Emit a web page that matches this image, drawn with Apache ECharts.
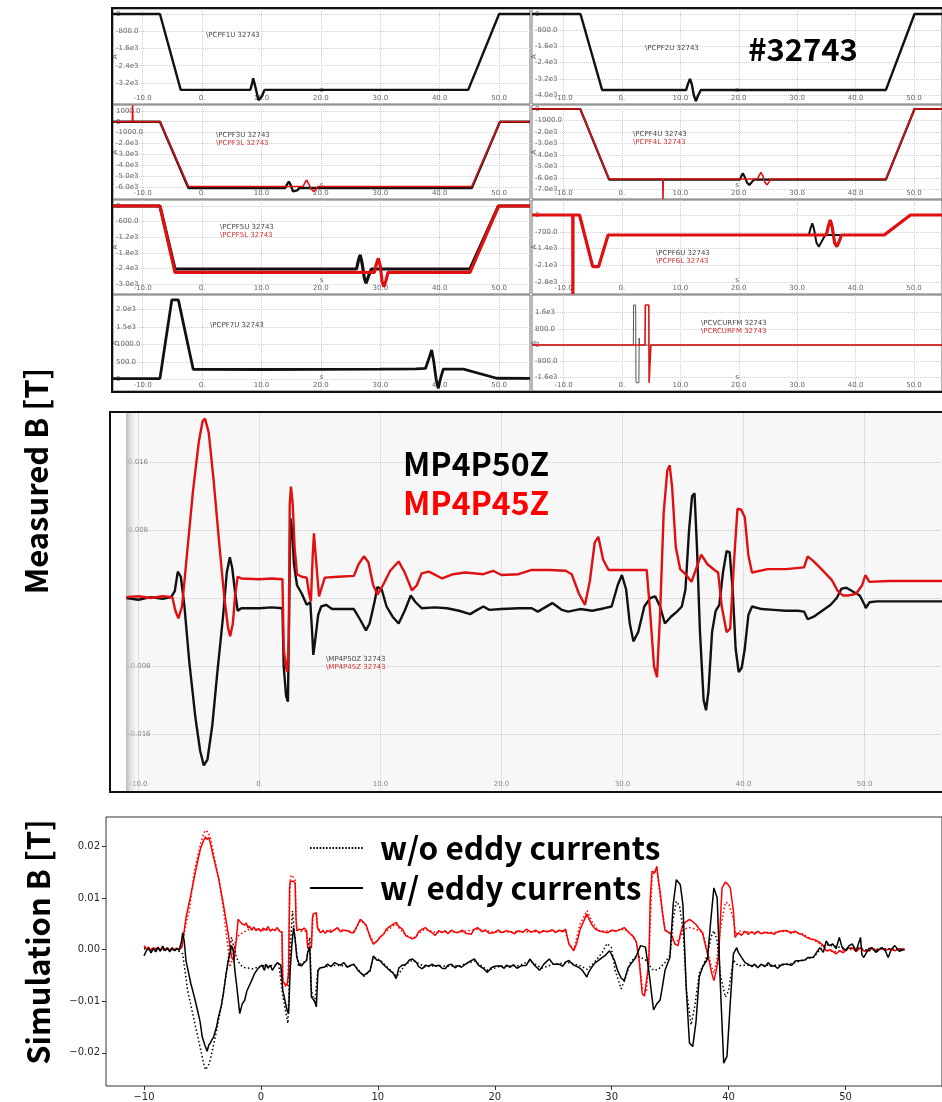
<!DOCTYPE html>
<html>
<head>
<meta charset="utf-8">
<script src="https://cdn.jsdelivr.net/npm/echarts@6/dist/echarts.min.js"></script>
<style>
html,body{margin:0;padding:0;background:#fff;}
#c{width:942px;height:1102px;}
</style>
</head>
<body>
<div id="c"></div>
<script>
// ---------- shot ----------
const shot = '32743';

// ---------- coil current panels: tick values and labels ----------
const coilTimeTicks = [-10, 0, 10, 20, 30, 40, 50];
const coilTimeLabels = ['-10.0', '0.', '10.0', '20.0', '30.0', '40.0', '50.0'];
const pf1Ticks = [0, -800, -1600, -2400, -3200];
const pf1Labels = ['0', '-800.0', '-1.6e3', '-2.4e3', '-3.2e3'];
const pf2Ticks = [0, -800, -1600, -2400, -3200, -4000];
const pf2Labels = ['0', '-800.0', '-1.6e3', '-2.4e3', '-3.2e3', '-4.0e3'];
const pf3Ticks = [1000, 0, -1000, -2000, -3000, -4000, -5000, -6000];
const pf3Labels = ['1000.0', '0', '-1000.0', '-2.0e3', '-3.0e3', '-4.0e3', '-5.0e3', '-6.0e3'];
const pf4Ticks = [0, -1000, -2000, -3000, -4000, -5000, -6000, -7000];
const pf4Labels = ['0', '-1000.0', '-2.0e3', '-3.0e3', '-4.0e3', '-5.0e3', '-6.0e3', '-7.0e3'];
const pf5Ticks = [0, -600, -1200, -1800, -2400, -3000];
const pf5Labels = ['0', '-600.0', '-1.2e3', '-1.8e3', '-2.4e3', '-3.0e3'];
const pf6Ticks = [0, -700, -1400, -2100, -2800];
const pf6Labels = ['0', '-700.0', '-1.4e3', '-2.1e3', '-2.8e3'];
const pf7Ticks = [0, 500, 1000, 1500, 2000];
const pf7Labels = ['0', '500.0', '1000.0', '1.5e3', '2.0e3'];
const fmTicks = [1600, 800, 0, -800, -1600];
const fmLabels = ['1.6e3', '800.0', '0', '-800.0', '-1.6e3'];

// ---------- coil currents [t (s), I (A)] ----------
const pcpf1u = [[-15,0],[-7.1,0],[-3.6,-3520],[8.1,-3520],[8.35,-3300],[8.6,-2980],[8.85,-3250],[9.2,-3650],[9.5,-4000],[9.75,-4070],[10.1,-3800],[10.5,-3520],[44.8,-3520],[50.0,0],[55.2,0]];
const pcpf2u = [[-15.4,0],[-7.1,0],[-3.4,-3750],[11.0,-3750],[11.3,-3450],[11.65,-3210],[11.95,-3450],[12.3,-4000],[12.66,-4300],[13.0,-4050],[13.5,-3750],[45.2,-3750],[50.1,0],[54.8,0]];
const pcpf3u = [[-15,0],[-7.1,0],[-2.3,-6080],[14.0,-6080],[14.3,-5750],[14.6,-5500],[14.9,-5800],[15.3,-6400],[15.6,-6570],[16.0,-6300],[16.4,-6080],[45.4,-6080],[50.15,0],[55.2,0]];
const pcpf3l = [[-15,0],[-11.75,0],[-11.7,1500],[-11.65,0],[-7.1,0],[-2.3,-5950],[17.0,-5950],[17.3,-5600],[17.6,-5350],[17.9,-5650],[18.4,-6200],[18.8,-6420],[19.15,-6200],[19.5,-5950],[45.4,-5950],[50.15,0],[55.2,0]];
const pcpf4u = [[-15.4,0],[-7.14,0],[-2.2,-6150],[20.2,-6150],[20.45,-5850],[20.7,-5600],[21.0,-5900],[21.4,-6400],[21.8,-6620],[22.2,-6400],[22.6,-6150],[45.2,-6150],[50.1,0],[54.8,0]];
const pcpf4l = [[-15.4,0],[-7.14,0],[-2.2,-6100],[7.0,-6100],[7.03,-7850],[7.08,-6100],[23.2,-6100],[23.5,-5800],[23.8,-5530],[24.1,-5800],[24.5,-6400],[24.85,-6620],[25.2,-6350],[25.5,-6100],[45.2,-6100],[50.1,0],[54.8,0]];
const pcpf5u = [[-15,0],[-7.1,0],[-4.56,-2414],[26.0,-2414],[26.3,-2100],[26.6,-1877],[26.9,-2150],[27.3,-2750],[27.6,-2962],[28.0,-2700],[28.5,-2414],[45.1,-2414],[49.9,0],[55.2,0]];
const pcpf5l = [[-15,0],[-7.1,0],[-4.56,-2540],[29.0,-2540],[29.3,-2250],[29.67,-2004],[30.0,-2300],[30.3,-2900],[30.6,-3092],[30.95,-2850],[31.3,-2540],[45.1,-2540],[49.9,0],[55.2,0]];
const pcpf6u = [[-15.4,0],[-7.26,0],[-5.0,-2150],[-4.0,-2150],[-2.37,-833],[32.0,-833],[32.3,-550],[32.6,-347],[32.9,-600],[33.3,-1150],[33.7,-1321],[34.2,-1100],[34.8,-833],[45.0,-833],[49.4,0],[54.8,0]];
const pcpf6l = [[-15.4,0],[-8.42,0],[-8.4,-3290],[-8.38,0],[-7.26,0],[-5.0,-2150],[-4.0,-2150],[-2.37,-833],[35.0,-833],[35.3,-500],[35.67,-208],[36.0,-500],[36.4,-1150],[36.8,-1321],[37.2,-1100],[37.6,-833],[44.9,-833],[49.4,0],[54.8,0]];
const pcpf7u = [[-15,20],[-7.1,20],[-5.1,2270],[-4.0,2270],[-1.5,286],[10,280],[20,285],[30,290],[36,300],[37.6,310],[38.2,600],[38.65,840],[39.0,500],[39.4,0],[39.77,-257],[40.1,0],[40.6,290],[44.0,290],[49.6,30],[55.2,25]];
const pcvcurfm = [[-15.4,0],[1.95,0],[2.0,1970],[2.35,1970],[2.4,-1855],[2.9,-1855],[2.95,344],[3.0,0],[54.8,0]];
const pcrcurfm = [[-15.4,0],[3.95,0],[4.0,1970],[4.6,1970],[4.65,-1855],[4.9,-1855],[4.95,0],[54.8,0]];

// ---------- measured magnetic probes [t (s), B (T)] ----------
const measBTicks = [0.016, 0.008, 0, -0.008, -0.016];
const measBLabels = ['0.016', '0.008', '0', '-0.008', '-0.016'];
const mp4p50z = [[-11,0.0000],[-10,-0.0002],[-9,0.0001],[-8,-0.0001],[-7.3,0.0001],[-7.0,0.0008],[-6.75,0.0031],[-6.5,0.0025],[-6.2,-0.0010],[-5.8,-0.0075],[-5.3,-0.0140],[-4.9,-0.0180],[-4.6,-0.0197],[-4.3,-0.0190],[-3.9,-0.0150],[-3.5,-0.0090],[-3.0,-0.0020],[-2.7,0.0030],[-2.45,0.0048],[-2.25,0.0035],[-2.0,0.0005],[-1.8,-0.0015],[-1.5,-0.0012],[0,-0.0012],[1,-0.0011],[1.9,-0.0012],[2.0,-0.0080],[2.2,-0.0115],[2.35,-0.0122],[2.45,-0.0020],[2.55,0.0094],[2.7,0.0080],[2.85,0.0040],[3.1,0.0015],[3.5,0.0005],[3.9,-0.0008],[4.2,-0.0005],[4.35,-0.0040],[4.45,-0.0067],[4.6,-0.0050],[4.85,-0.0020],[5.1,-0.0010],[5.5,-0.0008],[6,-0.0013],[7,-0.0013],[7.8,-0.0013],[8.3,-0.0025],[8.8,-0.0038],[9.1,-0.0030],[9.5,-0.0005],[9.75,0.0013],[10.1,0.0010],[10.5,-0.0010],[11.0,-0.0022],[11.5,-0.0030],[12.0,-0.0015],[12.5,0.0003],[12.9,-0.0005],[13.4,-0.0012],[14.5,-0.0011],[15.5,-0.0012],[16.5,-0.0015],[17.4,-0.0019],[18.0,-0.0014],[18.5,-0.0010],[19.0,-0.0014],[20.0,-0.0013],[21.4,-0.0012],[22.5,-0.0012],[23.0,-0.0016],[24.2,-0.0006],[25.0,-0.0014],[25.5,-0.0016],[26.5,-0.0013],[27.5,-0.0015],[28.5,-0.0012],[29.1,-0.0010],[29.6,0.0015],[29.95,0.0027],[30.3,0.0010],[30.6,-0.0030],[30.9,-0.0051],[31.3,-0.0040],[31.8,-0.0010],[32.3,0.0000],[32.7,0.0002],[33.1,-0.0010],[33.5,-0.0030],[34.0,-0.0022],[34.5,-0.0016],[34.9,-0.0010],[35.2,0.0010],[35.5,0.0080],[35.75,0.0120],[35.95,0.0123],[36.15,0.0060],[36.4,-0.0040],[36.7,-0.0120],[36.9,-0.0132],[37.1,-0.0110],[37.4,-0.0040],[37.7,-0.0015],[38.0,-0.0008],[38.3,0.0030],[38.6,0.0055],[38.85,0.0054],[39.1,0.0010],[39.35,-0.0060],[39.6,-0.0087],[39.85,-0.0082],[40.1,-0.0060],[40.4,-0.0020],[40.7,-0.0010],[41.5,-0.0013],[42.5,-0.0014],[43.5,-0.0015],[44.5,-0.0015],[45.0,-0.0016],[45.3,-0.0025],[45.8,-0.0022],[46.5,-0.0015],[47.2,-0.0008],[47.7,0.0000],[48.1,0.0011],[48.5,0.0012],[49.0,0.0008],[49.6,0.0003],[50.0,-0.0008],[50.1,-0.0012],[50.4,-0.0005],[51,-0.0004],[53,-0.0004],[56.5,-0.0004]];
const mp4p45z = [[-11,0.0001],[-10,0.0002],[-9,0.0000],[-8,0.0002],[-7.2,0.0001],[-6.95,-0.0015],[-6.7,-0.0024],[-6.4,-0.0010],[-6.0,0.0050],[-5.5,0.0125],[-5.0,0.0185],[-4.7,0.0208],[-4.5,0.0211],[-4.2,0.0195],[-3.8,0.0140],[-3.3,0.0060],[-2.9,0.0000],[-2.6,-0.0035],[-2.42,-0.0045],[-2.2,-0.0030],[-2.0,0.0005],[-1.8,0.0025],[-1.5,0.0023],[0,0.0022],[1.0,0.0023],[1.9,0.0022],[2.0,-0.0060],[2.2,-0.0082],[2.3,-0.0087],[2.42,-0.0050],[2.5,0.0110],[2.6,0.0131],[2.75,0.0110],[2.9,0.0060],[3.1,0.0028],[3.5,0.0025],[3.9,0.0024],[4.1,0.0005],[4.25,-0.0004],[4.4,0.0050],[4.5,0.0076],[4.7,0.0040],[4.92,0.0002],[5.2,0.0015],[5.4,0.0024],[6.5,0.0025],[7.8,0.0026],[8.2,0.0040],[8.63,0.0049],[9.0,0.0042],[9.4,0.0015],[9.75,0.0004],[10.2,0.0015],[10.8,0.0032],[11.5,0.0043],[12.0,0.0030],[12.6,0.0009],[13.0,0.0015],[13.4,0.0029],[14.0,0.0031],[15.1,0.0023],[16.0,0.0028],[17.0,0.0030],[18.5,0.0028],[19.3,0.0032],[20.0,0.0027],[21.4,0.0028],[22.5,0.0033],[24.0,0.0033],[25.3,0.0032],[25.8,0.0028],[26.4,0.0005],[26.9,-0.0008],[27.3,0.0020],[27.7,0.0065],[28.0,0.0072],[28.4,0.0045],[28.85,0.0033],[30.0,0.0033],[31.0,0.0033],[32.0,0.0033],[32.3,-0.0020],[32.6,-0.0080],[32.85,-0.0093],[33.1,-0.0020],[33.4,0.0100],[33.7,0.0150],[33.9,0.0156],[34.1,0.0130],[34.4,0.0060],[34.76,0.0034],[35.2,0.0028],[35.7,0.0019],[36.1,0.0035],[36.5,0.0051],[37.0,0.0040],[37.6,0.0033],[37.9,0.0030],[38.2,-0.0010],[38.6,-0.0040],[38.9,-0.0036],[39.2,0.0040],[39.5,0.0105],[39.8,0.0104],[40.1,0.0095],[40.4,0.0050],[40.7,0.0030],[42.0,0.0034],[43.5,0.0034],[45.0,0.0036],[45.3,0.0049],[45.8,0.0043],[46.5,0.0033],[47.3,0.0021],[47.8,0.0008],[48.2,0.0003],[48.7,0.0003],[49.3,0.0005],[49.8,0.0015],[50.07,0.0027],[50.4,0.0019],[52,0.0020],[54,0.0020],[56.5,0.0020]];

// ---------- simulated probe signals [t (s), B (T)] ----------
const simTimeTicks = [-10, 0, 10, 20, 30, 40, 50];
const simTimeLabels = ['\u221210', '0', '10', '20', '30', '40', '50'];
const simBTicks = [-0.02, -0.01, 0, 0.01, 0.02];
const simBLabels = ['\u22120.02', '\u22120.01', '0.00', '0.01', '0.02'];
const sim45Eddy = [[-10.0,0.0008],[-9.8,0.0002],[-9.6,0.0005],[-9.4,-0.0002],[-9.2,0.0004],[-9.0,0.0001],[-8.8,0.0005],[-8.6,-0.0001],[-8.4,0.0003],[-8.2,0.0000],[-8.0,0.0004],[-7.8,-0.0001],[-7.6,0.0002],[-7.4,0.0000],[-7.2,0.0003],[-7.0,0.0000],[-6.75,0.0005],[-6.6,0.0030],[-6.41,0.0062],[-6.1,0.0095],[-5.71,0.0139],[-5.43,0.0170],[-5.16,0.0197],[-4.9,0.0212],[-4.74,0.0219],[-4.6,0.0214],[-4.46,0.0218],[-4.3,0.0205],[-4.04,0.0178],[-3.62,0.0139],[-3.21,0.0088],[-2.93,0.0050],[-2.79,0.0030],[-2.51,-0.0015],[-2.31,-0.0021],[-2.15,0.0010],[-1.95,0.0059],[-1.8,0.0055],[-1.6,0.0050],[-1.4,0.0048],[-1.25,0.0052],[-1.1,0.0042],[-0.98,0.0046],[-0.8,0.0038],[-0.6,0.0044],[-0.42,0.0037],[-0.2,0.0041],[0.0,0.0036],[0.2,0.0042],[0.42,0.0038],[0.6,0.0045],[0.8,0.0036],[1.0,0.0040],[1.2,0.0037],[1.4,0.0043],[1.6,0.0036],[1.8,0.0033],[1.87,-0.0060],[2.0,-0.0066],[2.23,-0.0069],[2.37,-0.0045],[2.45,0.0120],[2.51,0.0133],[2.65,0.0131],[2.79,0.0133],[2.93,0.0129],[3.0,0.0060],[3.07,0.0037],[3.3,0.0040],[3.48,0.0038],[3.7,0.0042],[3.9,0.0037],[4.0,0.0004],[4.32,0.0004],[4.4,0.0060],[4.46,0.0069],[4.74,0.0072],[4.82,0.0045],[4.88,0.0040],[5.1,0.0033],[5.3,0.0037],[5.5,0.0032],[5.71,0.0037],[6.0,0.0034],[6.3,0.0039],[6.55,0.0043],[6.8,0.0035],[7.1,0.0038],[7.39,0.0037],[7.7,0.0033],[7.94,0.0033],[8.2,0.0045],[8.5,0.0059],[8.78,0.0053],[9.0,0.0048],[9.34,0.0024],[9.62,0.0011],[9.9,0.0016],[10.17,0.0024],[10.5,0.0030],[10.73,0.0040],[11.0,0.0045],[11.3,0.0049],[11.57,0.0053],[11.8,0.0045],[12.1,0.0040],[12.4,0.0027],[12.7,0.0024],[12.96,0.0021],[13.24,0.0024],[13.5,0.0035],[13.8,0.0040],[14.07,0.0043],[14.4,0.0036],[14.63,0.0033],[14.91,0.0028],[15.2,0.0037],[15.5,0.0033],[15.75,0.0037],[16.0,0.0031],[16.3,0.0038],[16.6,0.0034],[16.86,0.0033],[17.2,0.0038],[17.5,0.0032],[17.98,0.0030],[18.26,0.0040],[18.53,0.0043],[18.9,0.0035],[19.2,0.0038],[19.5,0.0032],[19.93,0.0033],[20.3,0.0038],[20.6,0.0033],[21.0,0.0037],[21.32,0.0035],[21.7,0.0031],[22.0,0.0037],[22.4,0.0034],[22.71,0.0040],[23.1,0.0034],[23.5,0.0038],[23.83,0.0032],[24.11,0.0037],[24.5,0.0035],[24.9,0.0039],[25.2,0.0033],[25.5,0.0038],[25.8,0.0035],[26.06,0.0040],[26.34,0.0011],[26.76,-0.0002],[27.0,0.0012],[27.31,0.0040],[27.6,0.0055],[27.87,0.0069],[28.1,0.0058],[28.29,0.0049],[28.6,0.0040],[28.85,0.0037],[29.2,0.0035],[29.68,0.0033],[30.0,0.0038],[30.4,0.0036],[30.8,0.0040],[31.08,0.0043],[31.49,0.0033],[31.91,0.0024],[32.1,0.0015],[32.33,-0.0015],[32.61,-0.0085],[32.8,-0.0090],[32.97,-0.0092],[33.17,-0.0028],[33.3,0.0100],[33.45,0.0152],[33.7,0.0150],[33.86,0.0162],[34.0,0.0135],[34.14,0.0113],[34.35,0.0070],[34.56,0.0037],[34.98,0.0033],[35.2,0.0025],[35.4,0.0011],[35.67,0.0008],[35.87,0.0030],[36.09,0.0049],[36.4,0.0055],[36.65,0.0059],[36.9,0.0055],[37.21,0.0049],[37.5,0.0040],[37.77,0.0033],[38.0,0.0010],[38.33,-0.0021],[38.55,-0.0045],[38.74,-0.0060],[38.95,-0.0040],[39.16,-0.0008],[39.3,0.0060],[39.44,0.0120],[39.72,0.0131],[39.9,0.0128],[40.14,0.0120],[40.41,0.0075],[40.55,0.0024],[40.83,0.0033],[41.1,0.0028],[41.4,0.0036],[41.67,0.0030],[42.0,0.0035],[42.22,0.0030],[42.5,0.0036],[42.78,0.0031],[43.1,0.0034],[43.4,0.0032],[43.62,0.0033],[43.9,0.0030],[44.2,0.0035],[44.6,0.0037],[45.01,0.0037],[45.3,0.0032],[45.7,0.0036],[46.0,0.0031],[46.27,0.0030],[46.6,0.0025],[46.96,0.0021],[47.3,0.0020],[47.8,0.0014],[48.1,0.0008],[48.35,-0.0002],[48.7,0.0000],[49.19,-0.0008],[49.5,-0.0002],[49.8,-0.0006],[50.1,0.0002],[50.59,0.0004],[50.9,-0.0004],[51.28,0.0004],[51.6,-0.0003],[51.98,-0.0002],[52.3,0.0003],[52.7,-0.0002],[53.09,0.0004],[53.4,-0.0001],[53.8,0.0002],[54.21,-0.0002],[54.6,0.0002],[55.04,0.0001]];
const sim45NoEddy = [[-10.0,0.0006],[-9.5,0.0001],[-9.0,0.0002],[-8.5,0.0000],[-8.0,0.0002],[-7.5,0.0000],[-7.0,0.0001],[-6.75,0.0008],[-6.41,0.0050],[-6.13,0.0075],[-5.71,0.0150],[-5.43,0.0180],[-5.16,0.0205],[-4.9,0.0225],[-4.74,0.0232],[-4.5,0.0228],[-4.3,0.0215],[-4.04,0.0185],[-3.62,0.0140],[-3.21,0.0080],[-2.93,0.0025],[-2.79,0.0000],[-2.65,-0.0034],[-2.45,-0.0020],[-2.23,0.0012],[-2.0,0.0025],[-1.81,0.0030],[-1.5,0.0033],[-1.2,0.0038],[-0.9,0.0040],[-0.6,0.0038],[-0.3,0.0040],[0.0,0.0037],[0.5,0.0039],[1.0,0.0038],[1.5,0.0039],[1.8,0.0035],[1.87,-0.0060],[2.1,-0.0072],[2.3,-0.0070],[2.4,0.0030],[2.5,0.0135],[2.59,0.0145],[2.8,0.0140],[2.93,0.0135],[3.0,0.0065],[3.07,0.0038],[3.5,0.0036],[3.9,0.0036],[4.0,0.0010],[4.32,0.0010],[4.46,0.0065],[4.74,0.0068],[4.88,0.0040],[5.5,0.0036],[6.5,0.0040],[7.5,0.0036],[8.0,0.0036],[8.5,0.0056],[8.9,0.0050],[9.4,0.0024],[9.7,0.0012],[10.5,0.0032],[11.5,0.0050],[12.4,0.0028],[13.0,0.0022],[14.0,0.0040],[15.0,0.0033],[16.0,0.0035],[17.0,0.0034],[18.5,0.0040],[20.0,0.0034],[22.0,0.0035],[24.0,0.0035],[26.0,0.0037],[26.34,0.0012],[26.76,0.0000],[27.3,0.0050],[27.9,0.0076],[28.3,0.0055],[28.85,0.0037],[30.0,0.0036],[31.08,0.0040],[31.7,0.0030],[32.1,0.0015],[32.4,-0.0030],[32.61,-0.0075],[32.97,-0.0082],[33.2,-0.0010],[33.45,0.0140],[33.72,0.0155],[33.9,0.0150],[34.14,0.0105],[34.56,0.0040],[35.0,0.0030],[35.4,0.0012],[35.8,0.0022],[36.2,0.0040],[36.65,0.0043],[37.2,0.0040],[37.77,0.0033],[38.1,0.0005],[38.5,-0.0030],[38.74,-0.0045],[39.0,-0.0020],[39.3,0.0040],[39.72,0.0092],[40.0,0.0090],[40.41,0.0060],[40.6,0.0030],[41.0,0.0036],[42.0,0.0034],[43.0,0.0033],[44.0,0.0034],[45.0,0.0036],[46.27,0.0031],[47.0,0.0022],[47.8,0.0012],[48.35,-0.0002],[49.0,-0.0004],[50.0,0.0000],[51.0,0.0001],[52.0,-0.0001],[53.0,0.0002],[54.0,0.0000],[55.04,0.0001]];
const sim50Eddy = [[-10.0,-0.0012],[-9.8,-0.0002],[-9.6,0.0003],[-9.4,-0.0006],[-9.2,0.0002],[-9.0,-0.0004],[-8.8,0.0004],[-8.6,-0.0003],[-8.4,0.0007],[-8.2,-0.0002],[-8.0,0.0003],[-7.8,-0.0004],[-7.6,0.0004],[-7.4,-0.0002],[-7.2,0.0002],[-7.0,-0.0001],[-6.8,0.0015],[-6.69,0.0033],[-6.55,0.0015],[-6.41,-0.0021],[-5.99,-0.0066],[-5.71,-0.0090],[-5.43,-0.0117],[-5.2,-0.0140],[-5.02,-0.0169],[-4.8,-0.0185],[-4.6,-0.0197],[-4.46,-0.0185],[-4.32,-0.0181],[-4.2,-0.0175],[-4.04,-0.0169],[-3.8,-0.0150],[-3.62,-0.0130],[-3.4,-0.0110],[-3.21,-0.0085],[-3.0,-0.0050],[-2.79,-0.0021],[-2.51,0.0008],[-2.37,-0.0002],[-2.23,-0.0040],[-2.09,-0.0066],[-1.81,-0.0124],[-1.6,-0.0105],[-1.39,-0.0098],[-1.2,-0.0080],[-0.98,-0.0069],[-0.8,-0.0060],[-0.56,-0.0047],[-0.3,-0.0038],[-0.14,-0.0034],[0.1,-0.0030],[0.3,-0.0040],[0.42,-0.0028],[0.6,-0.0036],[0.8,-0.0030],[0.98,-0.0040],[1.2,-0.0032],[1.4,-0.0025],[1.53,-0.0028],[1.7,-0.0030],[1.87,-0.0079],[2.23,-0.0117],[2.37,-0.0124],[2.5,-0.0040],[2.65,0.0011],[2.79,0.0043],[2.93,0.0020],[3.07,-0.0015],[3.3,-0.0030],[3.48,-0.0031],[3.7,-0.0025],[3.9,-0.0021],[4.0,-0.0005],[4.18,0.0004],[4.32,-0.0092],[4.6,-0.0100],[4.74,-0.0111],[4.88,-0.0040],[5.1,-0.0035],[5.43,-0.0034],[5.7,-0.0028],[6.0,-0.0033],[6.3,-0.0025],[6.55,-0.0028],[6.8,-0.0030],[7.1,-0.0025],[7.39,-0.0034],[7.7,-0.0030],[7.94,-0.0028],[8.3,-0.0040],[8.78,-0.0050],[9.1,-0.0045],[9.34,-0.0040],[9.62,-0.0012],[9.9,-0.0020],[10.17,-0.0021],[10.45,-0.0028],[10.73,-0.0034],[11.0,-0.0040],[11.3,-0.0045],[11.57,-0.0056],[11.8,-0.0035],[12.1,-0.0030],[12.4,-0.0028],[12.7,-0.0020],[12.96,-0.0018],[13.3,-0.0025],[13.5,-0.0033],[13.8,-0.0037],[14.07,-0.0030],[14.4,-0.0032],[14.63,-0.0028],[14.91,-0.0032],[15.2,-0.0030],[15.5,-0.0036],[15.75,-0.0037],[16.0,-0.0030],[16.3,-0.0028],[16.6,-0.0035],[16.86,-0.0031],[17.14,-0.0034],[17.5,-0.0028],[17.9,-0.0022],[18.26,-0.0018],[18.6,-0.0030],[19.0,-0.0036],[19.37,-0.0044],[19.7,-0.0035],[20.0,-0.0032],[20.48,-0.0031],[20.8,-0.0036],[21.0,-0.0030],[21.32,-0.0034],[21.6,-0.0029],[21.9,-0.0036],[22.3,-0.0031],[22.71,-0.0030],[23.0,-0.0018],[23.4,-0.0030],[23.83,-0.0040],[24.2,-0.0028],[24.66,-0.0018],[25.0,-0.0028],[25.5,-0.0028],[25.8,-0.0032],[26.06,-0.0024],[26.34,-0.0021],[26.76,-0.0030],[27.17,-0.0034],[27.5,-0.0040],[27.87,-0.0053],[28.01,-0.0045],[28.29,-0.0034],[28.6,-0.0025],[28.85,-0.0021],[29.2,-0.0015],[29.4,-0.0012],[29.82,-0.0002],[30.24,-0.0021],[30.5,-0.0040],[30.8,-0.0055],[31.08,-0.0060],[31.4,-0.0035],[31.63,-0.0028],[32.05,-0.0015],[32.47,0.0008],[32.89,0.0005],[33.17,-0.0040],[33.58,-0.0117],[33.86,-0.0105],[34.14,-0.0098],[34.35,-0.0070],[34.56,-0.0040],[34.98,-0.0015],[35.1,0.0030],[35.26,0.0088],[35.53,0.0136],[35.87,0.0126],[36.09,0.0088],[36.37,-0.0072],[36.65,-0.0181],[36.93,-0.0188],[37.21,-0.0140],[37.49,-0.0053],[37.77,-0.0034],[38.19,-0.0018],[38.47,0.0056],[38.74,0.0120],[39.02,0.0101],[39.3,-0.0072],[39.58,-0.0220],[39.86,-0.0207],[40.14,-0.0104],[40.41,-0.0008],[40.69,0.0004],[40.83,-0.0005],[41.11,-0.0015],[41.4,-0.0025],[41.67,-0.0028],[42.0,-0.0033],[42.22,-0.0028],[42.5,-0.0035],[42.78,-0.0028],[43.1,-0.0033],[43.4,-0.0025],[43.62,-0.0032],[43.9,-0.0031],[44.2,-0.0036],[44.6,-0.0028],[45.01,-0.0028],[45.4,-0.0030],[45.7,-0.0022],[46.13,-0.0021],[46.5,-0.0020],[46.8,-0.0015],[47.24,-0.0015],[47.8,0.0004],[48.1,-0.0005],[48.35,0.0017],[48.6,0.0008],[48.91,0.0011],[49.19,0.0002],[49.47,0.0024],[49.7,0.0005],[50.03,-0.0002],[50.3,0.0008],[50.59,0.0011],[50.9,-0.0003],[51.28,0.0024],[51.4,-0.0010],[51.56,-0.0015],[51.98,0.0002],[52.26,0.0004],[52.6,-0.0005],[53.09,0.0004],[53.4,-0.0002],[53.65,-0.0015],[53.9,0.0000],[54.21,0.0008],[54.6,-0.0003],[55.04,0.0001]];
const sim50NoEddy = [[-10.0,0.0002],[-9.5,0.0000],[-9.0,0.0002],[-8.5,-0.0001],[-8.0,0.0001],[-7.5,0.0000],[-7.0,-0.0003],[-6.69,-0.0008],[-6.27,-0.0079],[-5.71,-0.0137],[-5.16,-0.0194],[-4.9,-0.0220],[-4.74,-0.0233],[-4.5,-0.0225],[-4.32,-0.0213],[-3.9,-0.0169],[-3.34,-0.0104],[-2.93,-0.0040],[-2.51,0.0024],[-2.37,0.0027],[-2.09,-0.0015],[-1.81,-0.0028],[-1.53,-0.0034],[-1.0,-0.0036],[-0.7,-0.0037],[-0.3,-0.0034],[0.14,-0.0031],[0.7,-0.0032],[1.53,-0.0028],[1.87,-0.0090],[2.31,-0.0143],[2.51,0.0004],[2.7,0.0075],[2.93,0.0017],[3.2,-0.0031],[3.9,-0.0021],[4.18,0.0024],[4.32,-0.0079],[4.6,-0.0104],[4.88,-0.0037],[5.5,-0.0033],[6.5,-0.0030],[7.4,-0.0032],[8.0,-0.0030],[8.8,-0.0052],[9.3,-0.0042],[9.6,-0.0015],[10.2,-0.0020],[11.0,-0.0038],[11.6,-0.0052],[12.4,-0.0028],[13.0,-0.0020],[14.0,-0.0033],[15.0,-0.0031],[16.0,-0.0032],[17.0,-0.0031],[18.3,-0.0022],[19.4,-0.0040],[20.5,-0.0032],[22.0,-0.0031],[23.0,-0.0022],[24.0,-0.0036],[25.0,-0.0028],[26.3,-0.0025],[27.2,-0.0030],[27.9,-0.0038],[28.5,-0.0025],[29.2,-0.0005],[29.6,0.0012],[29.96,0.0005],[30.3,-0.0040],[30.8,-0.0076],[31.1,-0.0060],[31.6,-0.0025],[32.1,-0.0012],[32.5,-0.0015],[32.9,-0.0020],[33.2,-0.0030],[33.58,-0.0040],[34.0,-0.0038],[34.56,-0.0025],[35.0,-0.0010],[35.26,0.0060],[35.53,0.0094],[35.8,0.0085],[36.1,0.0040],[36.4,-0.0080],[36.79,-0.0146],[37.1,-0.0110],[37.5,-0.0045],[37.77,-0.0033],[38.2,-0.0010],[38.5,0.0025],[38.74,0.0037],[39.0,0.0020],[39.3,-0.0050],[39.72,-0.0092],[40.0,-0.0080],[40.4,-0.0020],[40.83,-0.0031],[41.5,-0.0030],[42.5,-0.0031],[43.5,-0.0030],[44.5,-0.0030],[45.5,-0.0026],[46.5,-0.0020],[47.3,-0.0014],[47.8,0.0000],[48.4,0.0010],[49.2,0.0006],[50.0,0.0002],[51.0,0.0004],[52.0,-0.0002],[53.0,0.0002],[54.0,0.0002],[55.04,0.0000]];

// ---------- helpers ----------
function labelFor(ticks, labels) {
  return function (v) {
    for (let i = 0; i < ticks.length; i++) {
      if (Math.abs(ticks[i] - v) < 1e-9) return labels[i];
    }
    return '';
  };
}
const SMALL_FONT = 'DejaVu Sans';
const BOLD_FONT = '"Noto Sans CJK KR", "Noto Sans", sans-serif';
const BLACK = '#111111';
const RED = '#e01010';

// ---------- coil panel layout ----------
const colL = { left: 113, width: 417, x: [-15, 55.2] };
const colR = { left: 532, width: 417, x: [-15.4, 54.8] };
const rows = [{ top: 9, height: 95 }, { top: 105, height: 94 }, { top: 200, height: 94 }, { top: 295, height: 96 }];

const coilPanels = [
  { col: colL, row: rows[0], y: [-4174, 232], ticks: pf1Ticks, labels: pf1Labels,
    lines: [{ data: pcpf1u, color: BLACK, width: 2.4 }],
    tag: { left: 206, top: 31, text: '\\PCPF1U ' + shot, sub: '' } },
  { col: colR, row: rows[0], y: [-4444, 247], ticks: pf2Ticks, labels: pf2Labels,
    lines: [{ data: pcpf2u, color: BLACK, width: 2.4 }],
    tag: { left: 645, top: 44, text: '\\PCPF2U ' + shot, sub: '' } },
  { col: colL, row: rows[1], y: [-7092, 1532], ticks: pf3Ticks, labels: pf3Labels,
    lines: [{ data: pcpf3u, color: BLACK, width: 2.4 }, { data: pcpf3l, color: RED, width: 1.6 }],
    tag: { left: 216, top: 131, text: '\\PCPF3U ' + shot, sub: '\\PCPF3L ' + shot } },
  { col: colR, row: rows[1], y: [-7847, 349], ticks: pf4Ticks, labels: pf4Labels,
    lines: [{ data: pcpf4u, color: BLACK, width: 2.2 }, { data: pcpf4l, color: RED, width: 1.6 }],
    tag: { left: 633, top: 130, text: '\\PCPF4U ' + shot, sub: '\\PCPF4L ' + shot } },
  { col: colL, row: rows[2], y: [-3372, 230], ticks: pf5Ticks, labels: pf5Labels,
    lines: [{ data: pcpf5u, color: BLACK, width: 3.2 }, { data: pcpf5l, color: RED, width: 3.2 }],
    tag: { left: 220, top: 223, text: '\\PCPF5U ' + shot, sub: '\\PCPF5L ' + shot } },
  { col: colR, row: rows[2], y: [-3292, 625], ticks: pf6Ticks, labels: pf6Labels,
    lines: [{ data: pcpf6u, color: BLACK, width: 2 }, { data: pcpf6l, color: RED, width: 3.2 }],
    tag: { left: 656, top: 249, text: '\\PCPF6U ' + shot, sub: '\\PCPF6L ' + shot } },
  { col: colL, row: rows[3], y: [-334, 2409], ticks: pf7Ticks, labels: pf7Labels,
    lines: [{ data: pcpf7u, color: BLACK, width: 2.8 }],
    tag: { left: 210, top: 321, text: '\\PCPF7U ' + shot, sub: '' } },
  { col: colR, row: rows[3], y: [-2265, 2462], ticks: fmTicks, labels: fmLabels,
    lines: [{ data: pcvcurfm, color: '#555', width: 1 }, { data: pcrcurfm, color: RED, width: 1.6 }],
    tag: { left: 701, top: 319, text: '\\PCVCURFM ' + shot, sub: '\\PCRCURFM ' + shot } }
];

const grids = [], xAxes = [], yAxes = [], series = [], titles = [];
const smallLabel = { fontSize: 7, color: '#666', fontFamily: SMALL_FONT };

coilPanels.forEach(function (p, i) {
  grids.push({ left: p.col.left, width: p.col.width, top: p.row.top, height: p.row.height,
    show: true, backgroundColor: '#ffffff', borderColor: '#707070', borderWidth: 1 });
  xAxes.push({ type: 'value', gridIndex: i, min: p.col.x[0], max: p.col.x[1],
    name: 's', nameLocation: 'middle', nameGap: -17, nameMoveOverlap: false, nameTextStyle: smallLabel,
    axisLine: { show: false, onZero: false },
    axisTick: { show: false, customValues: coilTimeTicks },
    axisLabel: Object.assign({ inside: true, margin: 2, customValues: coilTimeTicks,
      formatter: labelFor(coilTimeTicks, coilTimeLabels) }, smallLabel),
    splitLine: { show: true, lineStyle: { color: '#cfcfcf', type: 'dotted', width: 1 } } });
  yAxes.push({ type: 'value', gridIndex: i, min: p.y[0], max: p.y[1],
    name: 'A', nameLocation: 'middle', nameGap: -6, nameRotate: 90, nameMoveOverlap: false, nameTextStyle: smallLabel,
    axisLine: { show: false, onZero: false },
    axisTick: { show: false, customValues: p.ticks },
    axisLabel: Object.assign({ inside: true, margin: 3, customValues: p.ticks,
      formatter: labelFor(p.ticks, p.labels) }, smallLabel),
    splitLine: { show: true, lineStyle: { color: '#cfcfcf', type: 'dotted', width: 1 } } });
  p.lines.forEach(function (l) {
    series.push({ type: 'line', xAxisIndex: i, yAxisIndex: i, data: l.data, symbol: 'none',
      silent: true, lineStyle: { color: l.color, width: l.width } });
  });
  titles.push({ text: p.tag.text, subtext: p.tag.sub, left: p.tag.left, top: p.tag.top,
    padding: 0, itemGap: 0,
    textStyle: { fontSize: 7, fontWeight: 'normal', color: '#444', fontFamily: SMALL_FONT, lineHeight: 8 },
    subtextStyle: { fontSize: 7, color: '#d03030', fontFamily: SMALL_FONT, lineHeight: 8 } });
});

// ---------- measured panel ----------
const mi = grids.length;
grids.push({ left: 126, top: 413, width: 818, height: 378, show: true,
  backgroundColor: '#f7f7f7', borderWidth: 0 });
xAxes.push({ type: 'value', gridIndex: mi, min: -11.03, max: 56.4,
  axisLine: { show: false, onZero: false },
  axisTick: { show: false, customValues: coilTimeTicks },
  axisLabel: { inside: true, margin: 3, fontSize: 7, color: '#888', fontFamily: SMALL_FONT,
    customValues: coilTimeTicks, formatter: labelFor(coilTimeTicks, coilTimeLabels) },
  splitLine: { show: true, lineStyle: { color: '#c9c9c9', type: 'dotted', width: 1 } } });
yAxes.push({ type: 'value', gridIndex: mi, min: -0.0227, max: 0.02176,
  axisLine: { show: false, onZero: false },
  axisTick: { show: false, customValues: measBTicks },
  axisLabel: { inside: true, margin: 2, fontSize: 7, color: '#888', fontFamily: SMALL_FONT,
    customValues: measBTicks, formatter: labelFor(measBTicks, measBLabels) },
  splitLine: { show: true, lineStyle: { color: '#c9c9c9', type: 'dotted', width: 1 } } });
series.push({ type: 'line', name: 'MP4P50Z', xAxisIndex: mi, yAxisIndex: mi, data: mp4p50z,
  symbol: 'none', silent: true, lineStyle: { color: BLACK, width: 2.4 } });
series.push({ type: 'line', name: 'MP4P45Z', xAxisIndex: mi, yAxisIndex: mi, data: mp4p45z,
  symbol: 'none', silent: true, lineStyle: { color: RED, width: 2.4 } });
titles.push({ text: '\\MP4P50Z ' + shot, subtext: '\\MP4P45Z ' + shot, left: 326, top: 655,
  padding: 0, itemGap: 0,
  textStyle: { fontSize: 7, fontWeight: 'normal', color: '#444', fontFamily: SMALL_FONT, lineHeight: 8 },
  subtextStyle: { fontSize: 7, color: '#d03030', fontFamily: SMALL_FONT, lineHeight: 8 } });

// ---------- simulation panel ----------
const si = grids.length;
const simTick = { color: '#262626', fontSize: 10, fontFamily: 'DejaVu Sans' };
grids.push({ left: 106, top: 817, width: 856, height: 271, show: true,
  backgroundColor: '#ffffff', borderColor: '#333', borderWidth: 1 });
xAxes.push({ type: 'value', gridIndex: si, min: -13.25, max: 58.25, position: 'bottom',
  axisLine: { show: false, onZero: false },
  axisTick: { show: true, length: 4, customValues: simTimeTicks, lineStyle: { color: '#333', width: 1 } },
  axisLabel: Object.assign({ margin: 6, customValues: simTimeTicks,
    formatter: labelFor(simTimeTicks, simTimeLabels) }, simTick),
  splitLine: { show: false } });
yAxes.push({ type: 'value', gridIndex: si, min: -0.02645, max: 0.02576, position: 'left',
  axisLine: { show: false, onZero: false },
  axisTick: { show: true, length: 4, customValues: simBTicks, lineStyle: { color: '#333', width: 1 } },
  axisLabel: Object.assign({ margin: 6, customValues: simBTicks,
    formatter: labelFor(simBTicks, simBLabels) }, simTick),
  splitLine: { show: false } });
const dotted = [1.5, 2.4];
series.push({ type: 'line', name: 'MP4P45Z w/o', xAxisIndex: si, yAxisIndex: si, data: sim45NoEddy,
  symbol: 'none', silent: true, lineStyle: { color: '#ff0000', width: 1.5, type: dotted } });
series.push({ type: 'line', name: 'MP4P45Z w/', xAxisIndex: si, yAxisIndex: si, data: sim45Eddy,
  symbol: 'none', silent: true, lineStyle: { color: '#ff0000', width: 1.5 } });
series.push({ type: 'line', name: 'MP4P50Z w/o', xAxisIndex: si, yAxisIndex: si, data: sim50NoEddy,
  symbol: 'none', silent: true, lineStyle: { color: '#000', width: 1.5, type: dotted } });
series.push({ type: 'line', name: 'MP4P50Z w/', xAxisIndex: si, yAxisIndex: si, data: sim50Eddy,
  symbol: 'none', silent: true, lineStyle: { color: '#000', width: 1.5 } });
// style keys for the legend
series.push({ type: 'line', name: 'w/o eddy currents', xAxisIndex: si, yAxisIndex: si, data: [],
  symbol: 'none', lineStyle: { color: '#000', width: 2, type: [1.6, 1.6] }, itemStyle: { color: '#000' } });
series.push({ type: 'line', name: 'w/ eddy currents', xAxisIndex: si, yAxisIndex: si, data: [],
  symbol: 'none', lineStyle: { color: '#000', width: 2 }, itemStyle: { color: '#000' } });

const option = {
  animation: false,
  backgroundColor: '#ffffff',
  title: titles,
  grid: grids,
  xAxis: xAxes,
  yAxis: yAxes,
  series: series,
  legend: {
    data: ['w/o eddy currents', 'w/ eddy currents'],
    orient: 'vertical', left: 309, top: 830, padding: 0, itemWidth: 53, itemHeight: 14, itemGap: 4,
    selectedMode: false, itemStyle: { opacity: 0 },
    textStyle: { fontSize: 31.5, fontWeight: 'bold', color: '#000', fontFamily: BOLD_FONT,
      lineHeight: 36, padding: [0, 0, 0, 12] }
  },
  graphic: { elements: [
    { type: 'rect', z: 1, silent: true, shape: { x: 126, y: 413, width: 12, height: 378 },
      style: { fill: new echarts.graphic.LinearGradient(0, 0, 1, 0, [
        { offset: 0, color: 'rgba(180,180,180,0.9)' }, { offset: 1, color: 'rgba(247,247,247,0)' }]) } },
    { type: 'rect', z: 100, silent: true, shape: { x: 112, y: 8, width: 840, height: 384 },
      style: { fill: 'none', stroke: '#111', lineWidth: 2 } },
    { type: 'rect', z: 100, silent: true, shape: { x: 110, y: 412, width: 840, height: 380 },
      style: { fill: 'none', stroke: '#111', lineWidth: 2 } },
    { type: 'text', z: 100, x: 803, y: 49, silent: true,
      style: { text: '#' + shot, fontSize: 31, fontWeight: 'bold', fontFamily: BOLD_FONT, fill: '#000',
        textAlign: 'center', textVerticalAlign: 'middle' } },
    { type: 'text', z: 100, x: 403, y: 464, silent: true,
      style: { text: 'MP4P50Z', fontSize: 32, fontWeight: 'bold', fontFamily: BOLD_FONT, fill: '#000',
        textAlign: 'left', textVerticalAlign: 'middle' } },
    { type: 'text', z: 100, x: 403, y: 503, silent: true,
      style: { text: 'MP4P45Z', fontSize: 32, fontWeight: 'bold', fontFamily: BOLD_FONT, fill: '#ff0000',
        textAlign: 'left', textVerticalAlign: 'middle' } },
    { type: 'text', z: 100, x: 36, y: 481, rotation: Math.PI / 2, silent: true,
      style: { text: 'Measured B [T]', fontSize: 31, fontWeight: 'bold', fontFamily: BOLD_FONT, fill: '#000',
        textAlign: 'center', textVerticalAlign: 'middle' } },
    { type: 'text', z: 100, x: 38, y: 942, rotation: Math.PI / 2, silent: true,
      style: { text: 'Simulation B [T]', fontSize: 31, fontWeight: 'bold', fontFamily: BOLD_FONT, fill: '#000',
        textAlign: 'center', textVerticalAlign: 'middle' } }
  ] }
};

const chart = echarts.init(document.getElementById('c'), null, { renderer: 'canvas' });
chart.setOption(option);
</script>
</body>
</html>
